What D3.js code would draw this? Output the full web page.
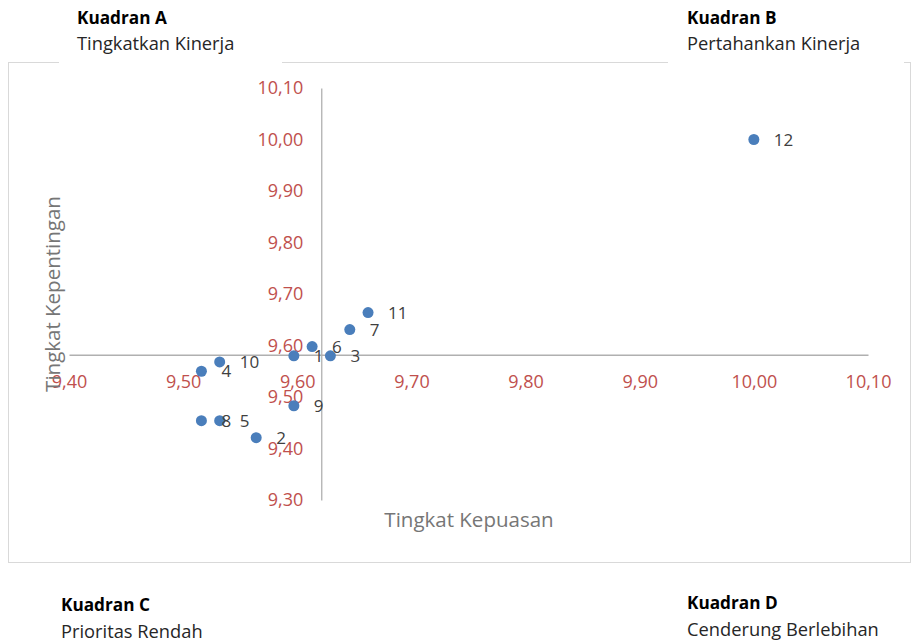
<!DOCTYPE html>
<html lang="id">
<head>
<meta charset="UTF-8">
<title>Diagram Kartesius</title>
<script src="https://d3js.org/d3.v7.min.js"></script>
<style>
    body { margin: 0; background: #fff; }
    svg text { font-family: "Open Sans", "Noto Sans", sans-serif; }
    .axis path { stroke: #b0b0b0; stroke-width: 1.3; }
    .axis text { fill: #c0504d; font-size: 18px; font-family: "Open Sans", sans-serif; }
    .judul { fill: #767676; font-size: 20.5px; }
    .kuadran-b { font-weight: bold; font-size: 17.2px; fill: #000; }
    .kuadran-n { font-size: 18.3px; fill: #262626; }
    .lbl { fill: #404040; font-size: 17px; }
</style>
</head>
<body>
<svg width="912" height="640"></svg>
<script>
// nomor atribut
var labels = ["1", "2", "3", "4", "5", "6", "7", "8", "9", "10", "11", "12"];
// tingkat kepuasan (sumbu x)
var kepuasan = [9.597, 9.564, 9.629, 9.516, 9.532, 9.613, 9.646, 9.516, 9.597, 9.532, 9.662, 10.000];
// tingkat kepentingan (sumbu y)
var kepentingan = [9.580, 9.421, 9.580, 9.550, 9.454, 9.598, 9.631, 9.454, 9.483, 9.568, 9.664, 10.000];

var xTicks = [9.40, 9.50, 9.60, 9.70, 9.80, 9.90, 10.00, 10.10];
var yTicks = [9.30, 9.40, 9.50, 9.60, 9.70, 9.80, 9.90, 10.00, 10.10];

// titik potong sumbu (rata-rata)
var crossX = 9.621;
var crossY = 9.582;

var svg = d3.select("svg");

// skala
var x = d3.scaleLinear().domain([9.40, 10.10]).range([69, 868]);
var y = d3.scaleLinear().domain([9.30, 10.10]).range([500, 88]);

var fmt = function(d) { return d3.format(".2f")(d).replace(".", ","); };

// bingkai area chart
svg.append("rect")
   .attr("x", 8.5).attr("y", 62.5)
   .attr("width", 902).attr("height", 500)
   .attr("fill", "none")
   .attr("stroke", "#d9d9d9");

// kotak teks kuadran atas menutup bingkai
svg.append("rect").attr("x", 59).attr("y", 0).attr("width", 223).attr("height", 66).attr("fill", "#fff");
svg.append("rect").attr("x", 668).attr("y", 0).attr("width", 236).attr("height", 66).attr("fill", "#fff");

var quad = [
    {t1: "Kuadran A", t2: "Tingkatkan Kinerja", x: 77, y: 24, y2: 50},
    {t1: "Kuadran B", t2: "Pertahankan Kinerja", x: 687, y: 24, y2: 50},
    {t1: "Kuadran C", t2: "Prioritas Rendah", x: 61, y: 611, y2: 638},
    {t1: "Kuadran D", t2: "Cenderung Berlebihan", x: 687, y: 609, y2: 636}
];
quad.forEach(function(q) {
    svg.append("text").attr("class", "kuadran-b").attr("x", q.x).attr("y", q.y).text(q.t1);
    svg.append("text").attr("class", "kuadran-n").attr("x", q.x).attr("y", q.y2).text(q.t2);
});

// sumbu x
var xAxis = d3.axisBottom(x).tickValues(xTicks).tickSize(0).tickPadding(20).tickFormat(fmt);
svg.append("g")
   .attr("class", "axis")
   .attr("transform", "translate(0," + y(crossY) + ")")
   .call(xAxis);

// sumbu y
var yAxis = d3.axisLeft(y).tickValues(yTicks).tickSize(0).tickPadding(18).tickFormat(fmt);
svg.append("g")
   .attr("class", "axis")
   .attr("transform", "translate(" + x(crossX) + ",0)")
   .call(yAxis);

// judul sumbu
svg.append("text")
   .attr("class", "judul")
   .attr("x", 469).attr("y", 527)
   .attr("text-anchor", "middle")
   .text("Tingkat Kepuasan");

svg.append("text")
   .attr("class", "judul")
   .attr("transform", "translate(60,294) rotate(-90)")
   .attr("text-anchor", "middle")
   .text("Tingkat Kepentingan");

// titik
svg.selectAll("circle.pt")
   .data(labels)
   .enter()
   .append("circle")
   .attr("class", "pt")
   .attr("cx", function(d, i) { return x(kepuasan[i]); })
   .attr("cy", function(d, i) { return y(kepentingan[i]); })
   .attr("r", 5.5)
   .attr("fill", "#4a7ebb");

// label data
svg.selectAll("text.lbl")
   .data(labels)
   .enter()
   .append("text")
   .attr("class", "lbl")
   .attr("x", function(d, i) { return x(kepuasan[i]) + 20; })
   .attr("y", function(d, i) { return y(kepentingan[i]); })
   .attr("dy", "0.36em")
   .text(function(d) { return d; });
</script>
</body>
</html>
